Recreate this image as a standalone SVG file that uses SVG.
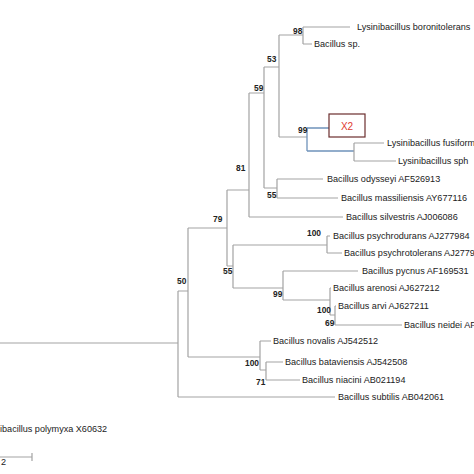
<svg xmlns="http://www.w3.org/2000/svg" width="474" height="474" viewBox="0 0 474 474">
<style>
.br{fill:none;stroke:#a3a3a3;stroke-width:1.2}
.bl{fill:none;stroke:#6f93bb;stroke-width:1.3}
.tx{font-family:"Liberation Sans",Arial,sans-serif;font-size:9.1px;fill:#222}
.bs{font-family:"Liberation Sans",Arial,sans-serif;font-size:8.4px;font-weight:bold;fill:#222}
</style>
<rect width="474" height="474" fill="#fff"/>
<g id="connectors">
<path class="br" d="M0,343H178M178,291V397M178,291H188M178,397H335"/>
<path class="br" d="M188,228V357M188,228H227M188,357H260"/>
<path class="br" d="M227,190V266M227,190H249M227,266H233"/>
<path class="br" d="M249,93V217M249,93H264M249,217H343"/>
<path class="br" d="M264,67V188M264,67H279M264,188H277"/>
<path class="br" d="M279,35V137M279,35H303M279,137H307"/>
<path class="br" d="M303,27V44M303,27H350M303,44H312"/>
<path class="bl" d="M307,128V151M307,128H329M307,151H354"/>
<path class="br" d="M354,143V161M354,143H384M354,161H396"/>
<path class="br" d="M277,179V198M277,179H323M277,198H338"/>
<path class="br" d="M233,245V288M233,245H327M233,288H283"/>
<path class="br" d="M327,236V253M327,236H330M327,253H342"/>
<path class="br" d="M283,271V300M283,271H358M283,300H330"/>
<path class="br" d="M330,288V315M330,288H331M330,315H335"/>
<path class="br" d="M335,306V325M335,306H336M335,325H402"/>
<path class="br" d="M260,341V370M260,341H271M260,370H266"/>
<path class="br" d="M266,362V380M266,362H283M266,380H300"/>
<path class="br" d="M0,457H32M32,453V461"/>
</g>
<g id="node-x2">
<rect x="329" y="114" width="36" height="23" fill="#fff" stroke="#6b2e2e" stroke-width="1.2"/>
<text x="347" y="129.5" text-anchor="middle" font-family="Liberation Sans,Arial,sans-serif" font-size="10" fill="#e03a30">X2</text>
</g>
<g id="leaves">
<text class="tx" x="357" y="30.3">Lysinibacillus boronitolerans</text>
<text class="tx" x="314" y="47.3">Bacillus sp.</text>
<text class="tx" x="387" y="146.3">Lysinibacillus fusiform</text>
<text class="tx" x="398" y="164.3">Lysinibacillus sph</text>
<text class="tx" x="327" y="182.3">Bacillus odysseyi AF526913</text>
<text class="tx" x="341" y="201.3">Bacillus massiliensis AY677116</text>
<text class="tx" x="346" y="220.3">Bacillus silvestris AJ006086</text>
<text class="tx" x="333" y="239.3">Bacillus psychrodurans AJ277984</text>
<text class="tx" x="344" y="256.3">Bacillus psychrotolerans AJ2779</text>
<text class="tx" x="362" y="274.3">Bacillus pycnus AF169531</text>
<text class="tx" x="333" y="291.3">Bacillus arenosi AJ627212</text>
<text class="tx" x="338" y="309.3">Bacillus arvi AJ627211</text>
<text class="tx" x="404" y="328.3">Bacillus neidei AF</text>
<text class="tx" x="273" y="344.3">Bacillus novalis AJ542512</text>
<text class="tx" x="285" y="365.3">Bacillus bataviensis AJ542508</text>
<text class="tx" x="302" y="383.3">Bacillus niacini AB021194</text>
<text class="tx" x="338" y="400.3">Bacillus subtilis AB042061</text>
<text class="tx" x="0" y="432.3">ibacillus polymyxa X60632</text>
<text class="tx" x="1" y="465">2</text>
</g>
<g id="support">
<text class="bs" x="293" y="34">98</text>
<text class="bs" x="267" y="62">53</text>
<text class="bs" x="254" y="91">59</text>
<text class="bs" x="298" y="133">99</text>
<text class="bs" x="236" y="171">81</text>
<text class="bs" x="267" y="198">55</text>
<text class="bs" x="213" y="222">79</text>
<text class="bs" x="307" y="236">100</text>
<text class="bs" x="223" y="274">55</text>
<text class="bs" x="177" y="284">50</text>
<text class="bs" x="273" y="297">99</text>
<text class="bs" x="317" y="313">100</text>
<text class="bs" x="325" y="326">69</text>
<text class="bs" x="245" y="366">100</text>
<text class="bs" x="256" y="385">71</text>
</g>
</svg>
